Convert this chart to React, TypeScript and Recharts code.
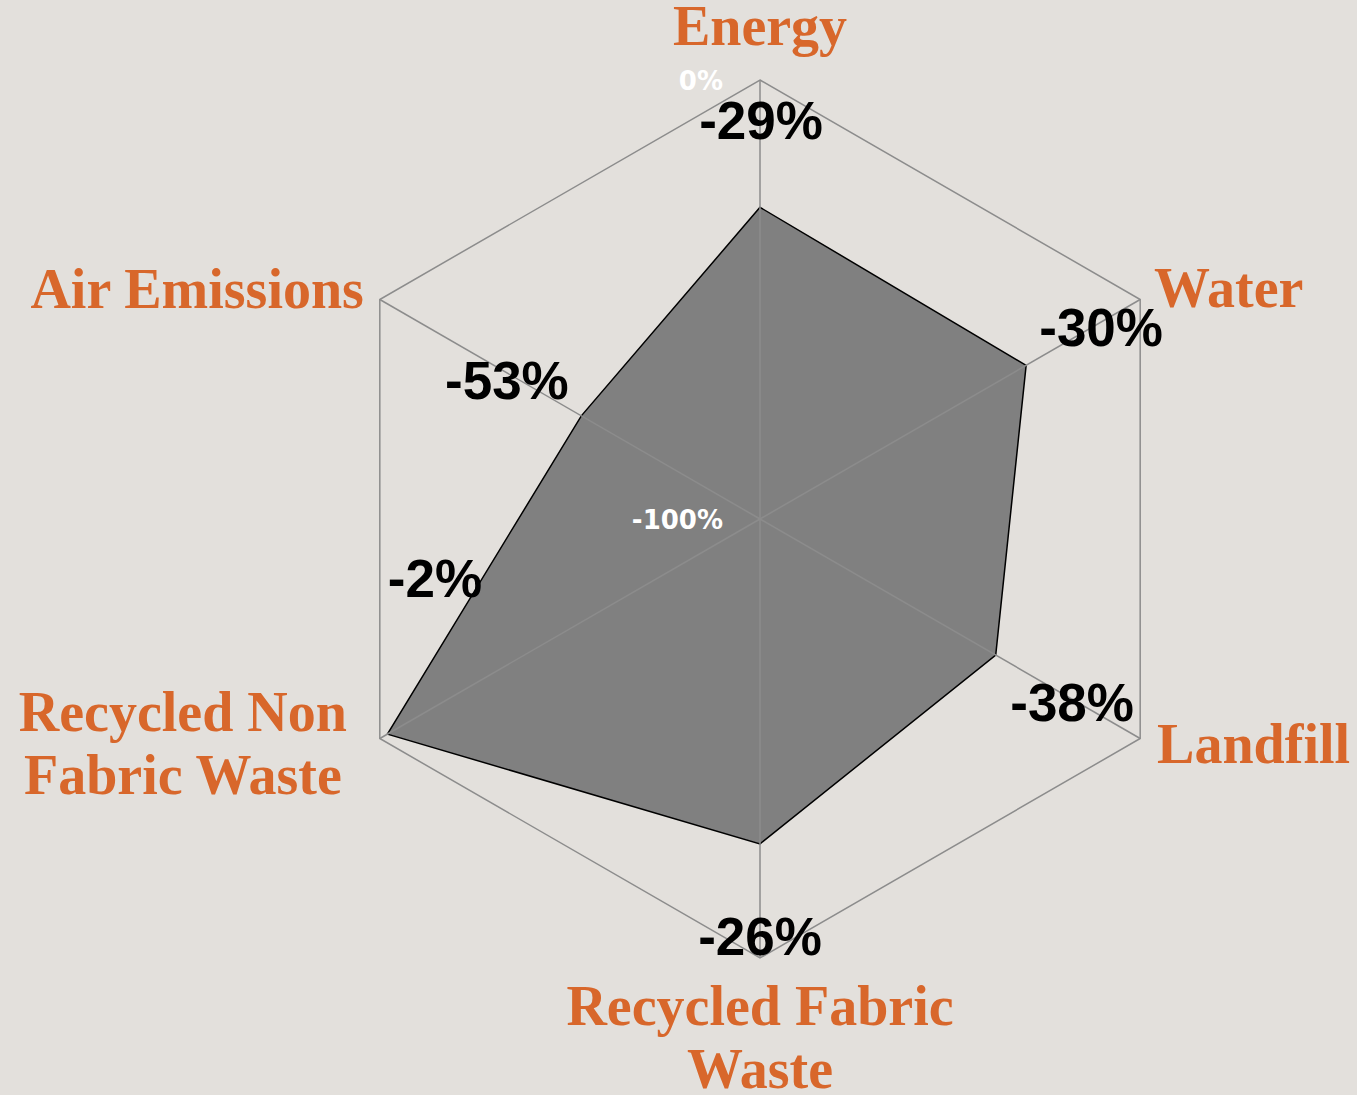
import React from 'react';
import { RadarChart, Radar, PolarGrid, PolarAngleAxis, PolarRadiusAxis } from 'recharts';

const categories = ['Energy', 'Water', 'Landfill', 'Recycled Fabric Waste', 'Recycled Non Fabric Waste', 'Air Emissions'];
const categoryLines = [['Energy'], ['Water'], ['Landfill'], ['Recycled Fabric', 'Waste'], ['Recycled Non', 'Fabric Waste'], ['Air Emissions']];
const changes = [-29, -30, -38, -26, -2, -53];
const radiusTicks = [-100, 0];

const data = categories.map((c, i) => ({ category: c, change: changes[i] }));

// offsets from each axis tick point (x, y handed in by PolarAngleAxis)
const nameOffset = [
  { dx: 0, dy: -27, anchor: 'middle' },
  { dx: 7, dy: 11, anchor: 'start' },
  { dx: 10, dy: 20, anchor: 'start' },
  { dx: 0, dy: 59, anchor: 'middle' },
  { dx: -190, dy: -12, anchor: 'middle' },
  { dx: -9, dy: 12, anchor: 'end' },
];
const valueOffset = [
  { dx: 1, dy: 67 },
  { dx: -46, dy: 50 },
  { dx: -75, dy: -22 },
  { dx: 0, dy: -11 },
  { dx: 62, dy: -146 },
  { dx: 134, dy: 103 },
];

const ORANGE = '#d8672b';

const AngleTick = (props: any) => {
  const { x, y, payload } = props;
  const i = categories.indexOf(payload.value);
  const n = nameOffset[i];
  const v = valueOffset[i];
  return (
    <g>
      <text
        x={x + n.dx}
        y={y + n.dy}
        textAnchor={n.anchor}
        fill={ORANGE}
        fontFamily="'Liberation Serif', serif"
        fontWeight={700}
        fontSize={56}
      >
        {categoryLines[i].map((line, k) => (
          <tspan key={k} x={x + n.dx} dy={k === 0 ? 0 : 63}>
            {line}
          </tspan>
        ))}
      </text>
      <text
        x={x + v.dx}
        y={y + v.dy}
        textAnchor="middle"
        fill="#000"
        fontFamily="'Liberation Sans', Arial, sans-serif"
        fontWeight={700}
        fontSize={53}
      >
        {changes[i]}%
      </text>
    </g>
  );
};

const RadiusTick = (props: any) => {
  const { x, y, payload } = props;
  return (
    <text x={x - 37} y={y + 10} textAnchor="end" fill="#fff" fontFamily="'DejaVu Sans', sans-serif" fontWeight={700} fontSize={26}>
      {payload.value}%
    </text>
  );
};

export default function App() {
  return (
    <div style={{ position: 'absolute', left: 0, top: 0, width: 1357, height: 1095, background: '#e3e0dc' }}>
      <RadarChart width={1357} height={1095} data={data} cx={760} cy={519} outerRadius={439} margin={{ top: 0, right: 0, bottom: 0, left: 0 }}>
        <Radar dataKey="change" fill="#808080" fillOpacity={1} stroke="#000" strokeWidth={1.5} isAnimationActive={false} />
        <PolarGrid gridType="polygon" stroke="#8c8c8c" strokeWidth={1.5} zIndex={150} />
        <PolarAngleAxis dataKey="category" tick={<AngleTick />} tickLine={false} axisLine={false} />
        <PolarRadiusAxis angle={90} domain={[-100, 0]} ticks={radiusTicks} tick={<RadiusTick />} axisLine={false} tickLine={false} />
      </RadarChart>
    </div>
  );
}
